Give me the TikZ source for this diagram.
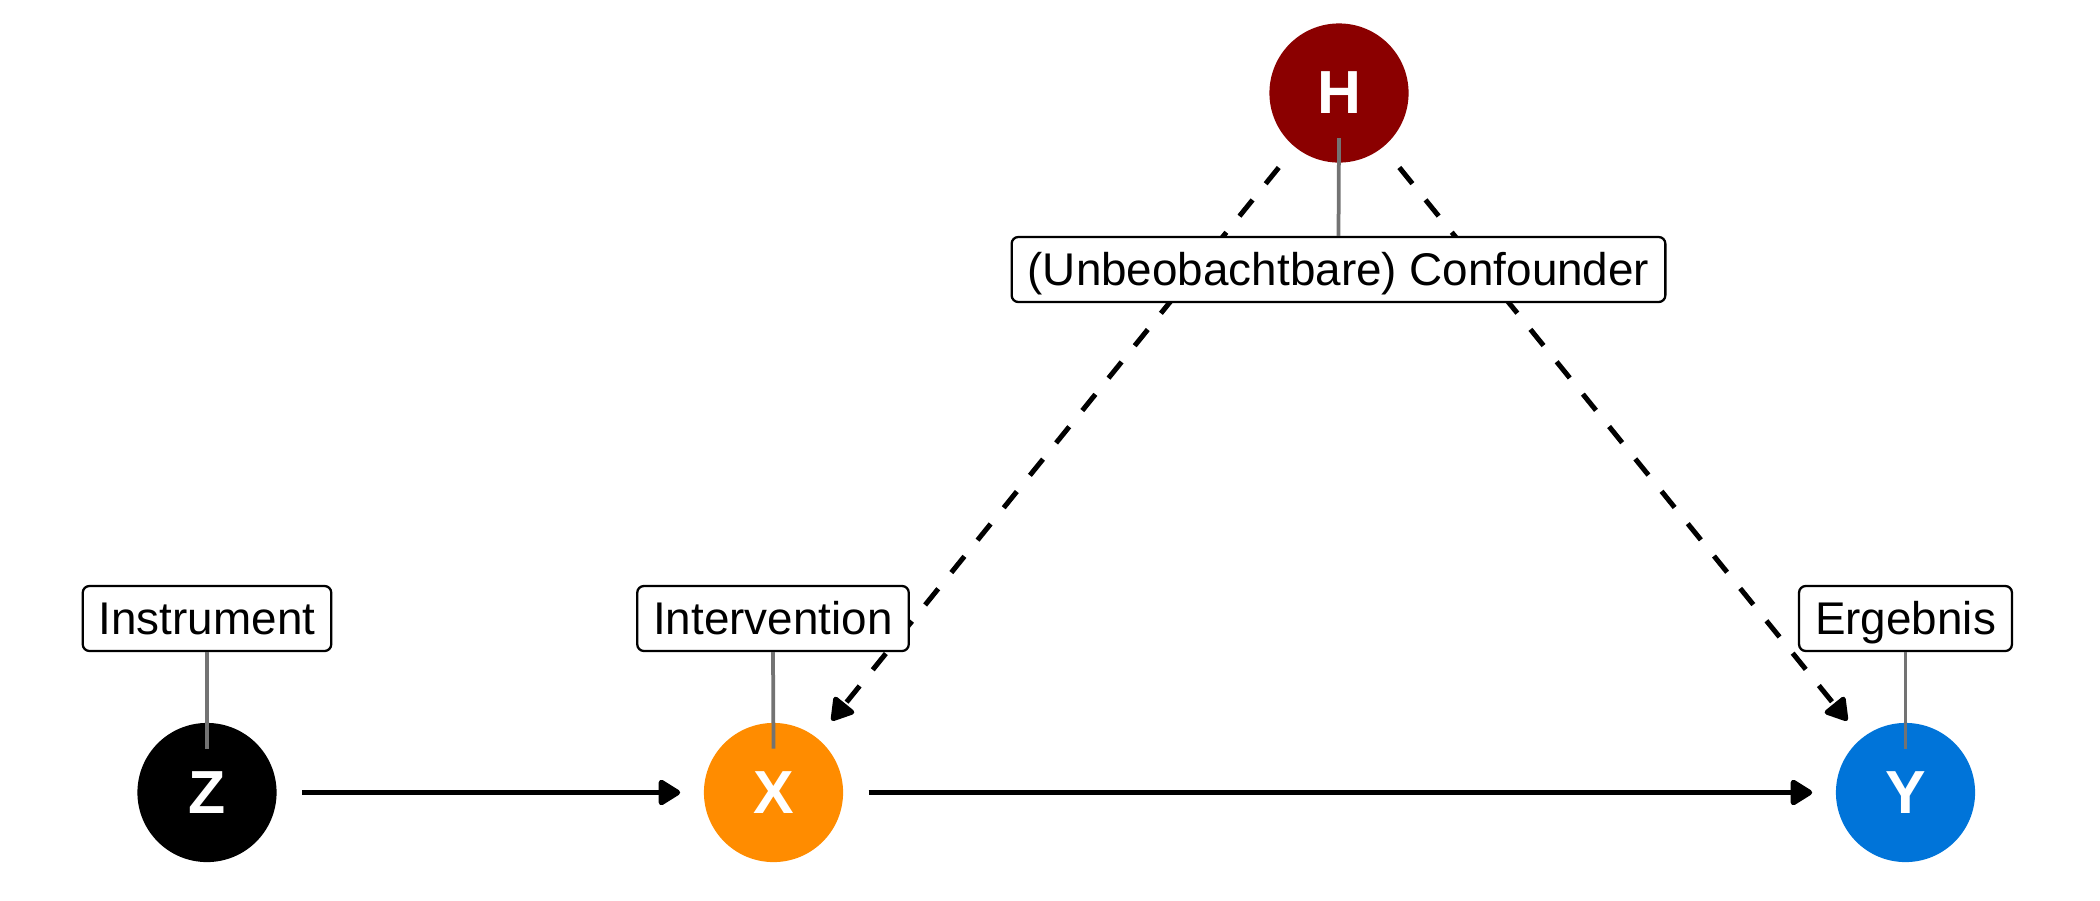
\documentclass[tikz,border=0pt]{standalone}
\usepackage{fontspec}
\setmainfont{Liberation Sans}
\usetikzlibrary{arrows.meta,calc}
\definecolor{hred}{HTML}{8B0000}
\definecolor{xorange}{HTML}{FF8C00}
\definecolor{yblue}{HTML}{0074D9}
\tikzset{
  varnode/.style={circle, minimum size=33.4pt, inner sep=0pt, text=white,
    font=\fontsize{14.6}{16}\selectfont\bfseries},
  lab/.style={draw=black, line width=0.55pt, fill=white, rounded corners=1.6pt,
    inner xsep=3.84pt, inner ysep=0pt, minimum height=15.6pt,
    text height=7.9pt, text depth=0pt, font=\fontsize{11}{13}\selectfont},
  solidarr/.style={line width=1.3pt, -{Triangle[length=5.8pt,width=6.8pt,round]},
    shorten <=5.9pt, shorten >=5.5pt},
  dasharr/.style={line width=1.2pt, dash pattern=on 5pt off 5pt,
    -{Triangle[length=5.8pt,width=6.8pt,round]}, shorten <=6.1pt, shorten >=5.3pt},
  pin/.style={draw=gray!90!black, line width=0.9pt}
}
\begin{document}
\begin{tikzpicture}[x=0.24pt, y=-0.24pt]
\useasboundingbox (0,0) rectangle (2100,900);
% variables
\node[varnode, fill=black]   (Z) at (207,792.5)   {Z};
\node[varnode, fill=xorange] (X) at (773.5,792.5) {X};
\node[varnode, fill=yblue]   (Y) at (1905.5,792.5) {Y};
\node[varnode, fill=hred]    (H) at (1339,93)     {H};
% connectors
\draw[solidarr] (Z) -- (X);
\draw[solidarr] (X) -- (Y);
\draw[dasharr] (H) -- (X);
\draw[dasharr] (H) -- (Y);
% labels
\node[lab] (Zl) at (207,618.5)    {Instrument};
\node[lab] (Xl) at (773,618.5)    {Intervention};
\node[lab] (Yl) at (1905.5,618.5) {Ergebnis};
\node[lab] (Hl) at (1338.5,269.5) {(Unbeobachtbare) Confounder};
% label pins
\coordinate (Zp) at ($(Z)+(0,-44)$);
\coordinate (Xp) at ($(X)+(0,-44)$);
\coordinate (Yp) at ($(Y)+(0,-44)$);
\coordinate (Hp) at ($(H)+(0,45)$);
\draw[pin] (Zl.south) -- (Zp);
\draw[pin] (Xl.south) -- (Xp);
\draw[pin] (Yl.south) -- (Yp);
\draw[pin] (Hl.north) -- (Hp);
\end{tikzpicture}
\end{document}
